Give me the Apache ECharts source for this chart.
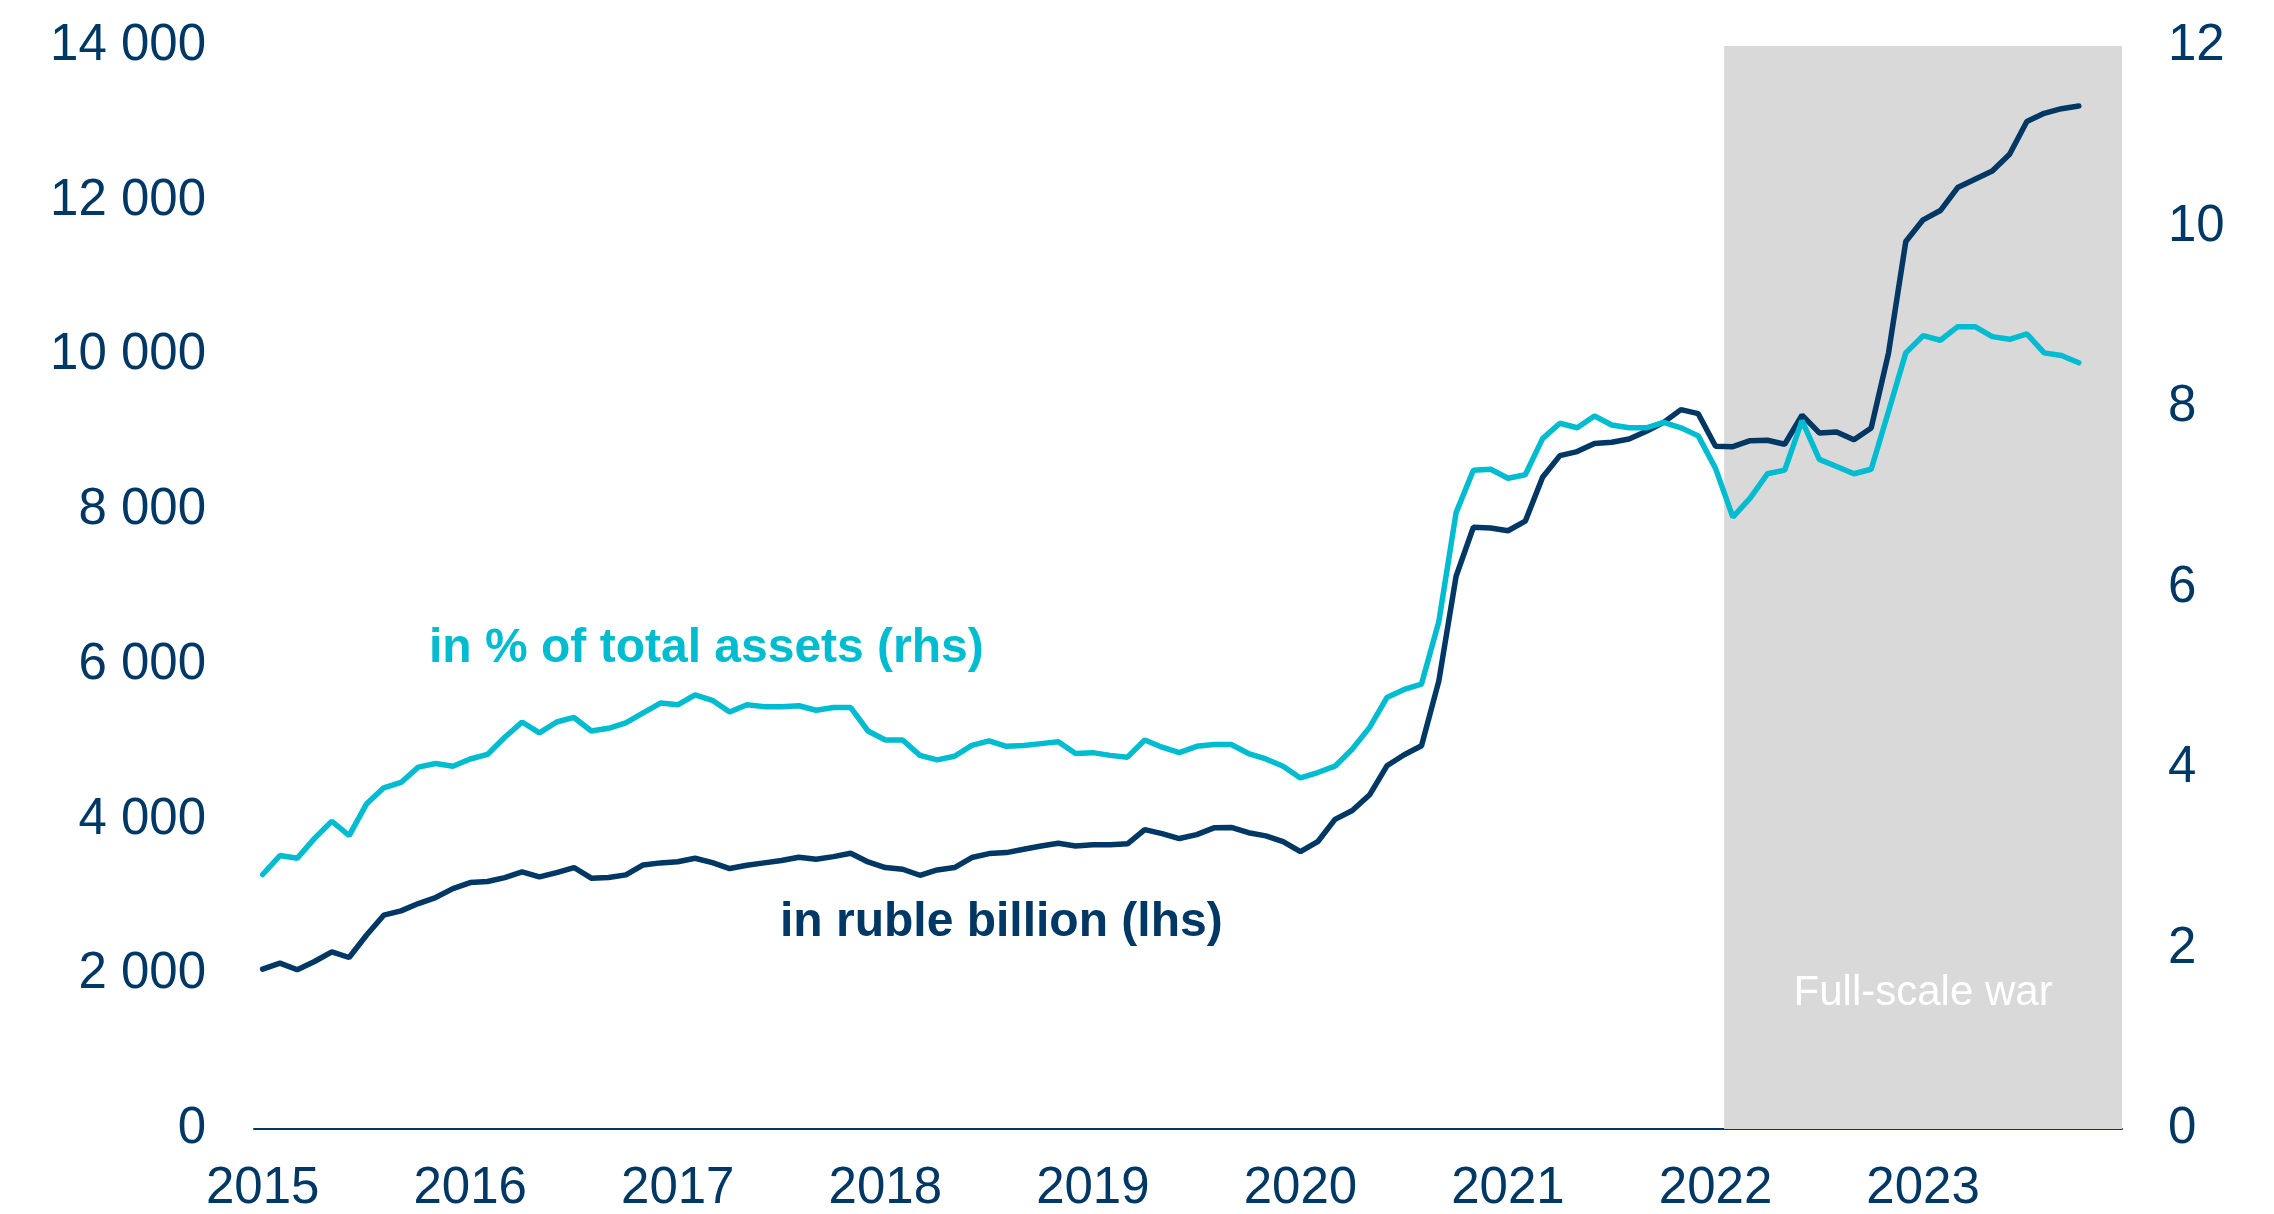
<!DOCTYPE html>
<html>
<head>
<meta charset="utf-8">
<script src="https://cdn.jsdelivr.net/npm/echarts@6/dist/echarts.min.js"></script>
<style>
  html, body { margin: 0; padding: 0; background: #fff; }
  #chart { width: 2274px; height: 1214px; }
</style>
</head>
<body>
<div id="chart"></div>
<script>
// monthly categories, Jan 2015 .. Dec 2023
var months = [];
for (var yr = 2015; yr <= 2023; yr++) {
    for (var mo = 1; mo <= 12; mo++) {
        months.push(yr + '-' + (mo < 10 ? '0' + mo : mo));
    }
}

// in ruble billion (lhs), Jan 2015 .. Oct 2023
var rubleBn = [
    2066, 2144, 2058, 2165, 2290, 2217, 2505, 2764, 2820, 2914, 2992, 3108,
    3186, 3199, 3250, 3323, 3259, 3315, 3380, 3242, 3250, 3285, 3414, 3440,
    3455, 3500, 3444, 3367, 3410, 3440, 3470, 3513, 3487, 3521, 3565, 3452,
    3380, 3358, 3280, 3349, 3380, 3509, 3560, 3573, 3616, 3659, 3694, 3659,
    3673, 3674, 3686, 3870, 3818, 3755, 3806, 3893, 3899, 3830, 3789, 3714,
    3587, 3714, 4002, 4117, 4320, 4695, 4838, 4954, 5790, 7145, 7779, 7769,
    7734, 7857, 8425, 8705, 8757, 8860, 8877, 8920, 9019, 9135, 9299, 9247,
    8825, 8821, 8898, 8903, 8852, 9228, 8998, 9010, 8911, 9062, 10031, 11473,
    11753, 11873, 12170, 12278, 12385, 12601, 13023, 13130, 13190, 13225
];

// in % of total assets (rhs)
var sharePct = [
    2.82, 3.03, 3.00, 3.22, 3.41, 3.25, 3.60, 3.78, 3.84, 4.01, 4.05, 4.02,
    4.10, 4.15, 4.34, 4.51, 4.39, 4.51, 4.56, 4.41, 4.44, 4.50, 4.61, 4.72,
    4.70, 4.81, 4.75, 4.62, 4.70, 4.68, 4.68, 4.69, 4.64, 4.67, 4.67, 4.41,
    4.31, 4.31, 4.14, 4.09, 4.13, 4.25, 4.30, 4.24, 4.25, 4.27, 4.29, 4.16,
    4.17, 4.14, 4.12, 4.31, 4.23, 4.17, 4.24, 4.26, 4.26, 4.16, 4.10, 4.02,
    3.89, 3.95, 4.02, 4.21, 4.45, 4.78, 4.87, 4.93, 5.62, 6.83, 7.30, 7.31,
    7.21, 7.25, 7.65, 7.82, 7.77, 7.90, 7.80, 7.77, 7.77, 7.83, 7.77, 7.68,
    7.32, 6.78, 6.99, 7.26, 7.30, 7.85, 7.42, 7.34, 7.26, 7.31, 7.95, 8.60,
    8.79, 8.74, 8.89, 8.89, 8.78, 8.75, 8.81, 8.60, 8.57, 8.49
];

// axis ranges
var leftAxis = { min: 0, max: 14000, step: 2000 };
var rightAxis = { min: 0, max: 12, step: 2 };

// shaded period
var warFrom = '2022-02';
var warTo = '2023-12';
var warLabel = 'Full-scale war';

var NAVY = '#003865';
var CYAN = '#00BCD0';
var FONT = '"Liberation Sans", Arial, sans-serif';

function spaced(v) {
    return String(v).replace(/\B(?=(\d{3})+(?!\d))/g, ' ');
}

var chart = echarts.init(document.getElementById('chart'));

var option = {
    animation: false,
    backgroundColor: '#fff',
    textStyle: { fontFamily: FONT },
    grid: {
        left: 254,
        right: 152,
        top: 46,
        bottom: 84,
        containLabel: false
    },
    xAxis: [
        {
            type: 'category',
            data: months,
            boundaryGap: true,
            axisLine: { show: true, lineStyle: { color: NAVY, width: 2 } },
            axisTick: { show: false },
            splitLine: { show: false },
            axisLabel: {
                interval: 11,
                margin: 34,
                color: NAVY,
                fontSize: 51,
                fontFamily: FONT,
                formatter: function (v) { return v.slice(0, 4); }
            }
        },
        {
            // helper axis in month units for the shaded period
            type: 'value',
            show: false,
            min: 0,
            max: months.length
        }
    ],
    yAxis: [
        {
            type: 'value',
            min: leftAxis.min,
            max: leftAxis.max,
            interval: leftAxis.step,
            axisLine: { show: false },
            axisTick: { show: false },
            splitLine: { show: false },
            axisLabel: {
                margin: 48,
                color: NAVY,
                fontSize: 51,
                fontFamily: FONT,
                padding: [8, 0, 0, 0],
                formatter: spaced
            }
        },
        {
            type: 'value',
            min: rightAxis.min,
            max: rightAxis.max,
            interval: rightAxis.step,
            axisLine: { show: false },
            axisTick: { show: false },
            splitLine: { show: false },
            axisLabel: {
                margin: 46,
                color: NAVY,
                fontSize: 51,
                fontFamily: FONT,
                padding: [8, 0, 0, 0]
            }
        }
    ],
    series: [
        {
            name: 'war',
            type: 'line',
            xAxisIndex: 1,
            yAxisIndex: 0,
            data: [],
            z: 1,
            markArea: {
                silent: true,
                itemStyle: { color: '#D9D9D9' },
                label: {
                    show: true,
                    position: 'insideBottom',
                    distance: 115,
                    color: '#fff',
                    fontSize: 42,
                    fontFamily: FONT
                },
                data: [[
                    { name: warLabel, xAxis: months.indexOf(warFrom) },
                    { xAxis: months.indexOf(warTo) + 1 }
                ]]
            }
        },
        {
            name: 'in ruble billion (lhs)',
            type: 'line',
            yAxisIndex: 0,
            data: rubleBn,
            symbol: 'none',
            z: 3,
            lineStyle: { color: NAVY, width: 5.5, cap: 'round' }
        },
        {
            name: 'in % of total assets (rhs)',
            type: 'line',
            yAxisIndex: 1,
            data: sharePct,
            symbol: 'none',
            z: 4,
            lineStyle: { color: CYAN, width: 5.5, cap: 'round' }
        }
    ],
    graphic: [
        {
            type: 'text',
            x: 429,
            y: 649,
            style: {
                text: 'in % of total assets (rhs)',
                font: 'bold 48px ' + FONT,
                fill: CYAN,
                textAlign: 'left',
                textVerticalAlign: 'middle'
            }
        },
        {
            type: 'text',
            x: 780,
            y: 923,
            style: {
                text: 'in ruble billion (lhs)',
                font: 'bold 48px ' + FONT,
                fill: NAVY,
                textAlign: 'left',
                textVerticalAlign: 'middle'
            }
        }
    ]
};

chart.setOption(option);
</script>
</body>
</html>
